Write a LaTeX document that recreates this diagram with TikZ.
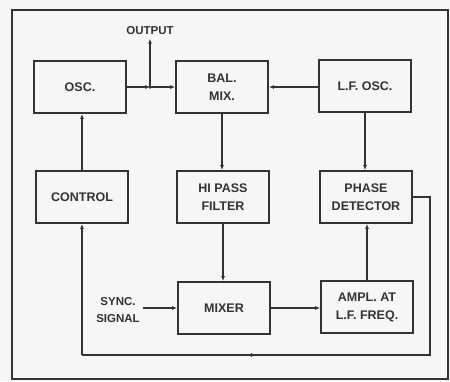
\documentclass[tikz,border=0pt]{standalone}
\usepackage{fontspec}
\setmainfont{Liberation Sans}
\usetikzlibrary{arrows.meta, calc}

\tikzset{
    bloc/.style={draw, line width=1.7pt, minimum width=92pt, minimum height=52pt, align=center, font=\fontsize{12.5}{18}\selectfont\bfseries},
    lien/.style={line width=1.1pt},
    fleche/.style={lien, -{Latex[length=5pt,width=4pt]}},
    etiq/.style={align=center, font=\fontsize{11.5}{17}\selectfont\bfseries},
}

\begin{document}
\begin{tikzpicture}[x=1pt, y=-1pt, color=black!80]
    \useasboundingbox[fill=gray!7] (0,0) rectangle (450,381);
    % Cadre
    \draw[line width=1.7pt] (12,10) rectangle (448,379);

    % Blocs
    \node[bloc] (osc) at (80,87) {OSC.};
    \node[bloc] (balmix) at (222,87) {BAL.\\MIX.};
    \node[bloc] (lfosc) at (365,86) {L.F. OSC.};
    \node[bloc] (control) at (82,197) {CONTROL};
    \node[bloc] (hipass) at (223,197) {HI PASS\\FILTER};
    \node[bloc] (phase) at (366,197) {PHASE\\DETECTOR};
    \node[bloc] (mixer) at (224,308) {MIXER};
    \node[bloc] (ampl) at (367,307) {AMPL. AT\\L.F. FREQ.};

    \node[etiq] (output) at (150,31) {OUTPUT};
    \node[etiq] (sync) at (118,310) {SYNC.\\SIGNAL};

    \coordinate (jn) at (150,87);
    \coordinate (fbR) at (430,355);
    \coordinate (fbM) at (247,355);
    \coordinate (fbL) at (control.south |- fbR);

    % Liaisons
    \draw[fleche] (osc.east) -- (jn);
    \draw[fleche] (jn) -- (balmix.west);
    \fill (jn) circle (1.8pt);
    \draw[fleche] (jn) -- (output.south);
    \draw[fleche] (lfosc.west |- balmix.east) -- (balmix.east);
    \draw[fleche] (control.north) -- (osc.south -| control.north);
    \draw[fleche] (balmix.south) -- (hipass.north -| balmix.south);
    \draw[fleche] (hipass.south) -- (mixer.north -| hipass.south);
    \draw[fleche] (lfosc.south) -- (phase.north -| lfosc.south);
    \draw[fleche] (ampl.north) -- (phase.south -| ampl.north);
    \draw[fleche] (mixer.east) -- (mixer.east -| ampl.west);
    \draw[fleche] (sync.east |- mixer.west) -- (mixer.west);

    % Retour
    \draw[lien] (phase.east) -| (fbR) -- (fbL);
    \draw[fleche] (fbR) -- (fbM);
    \draw[fleche] (fbL) -- (control.south);
\end{tikzpicture}
\end{document}
